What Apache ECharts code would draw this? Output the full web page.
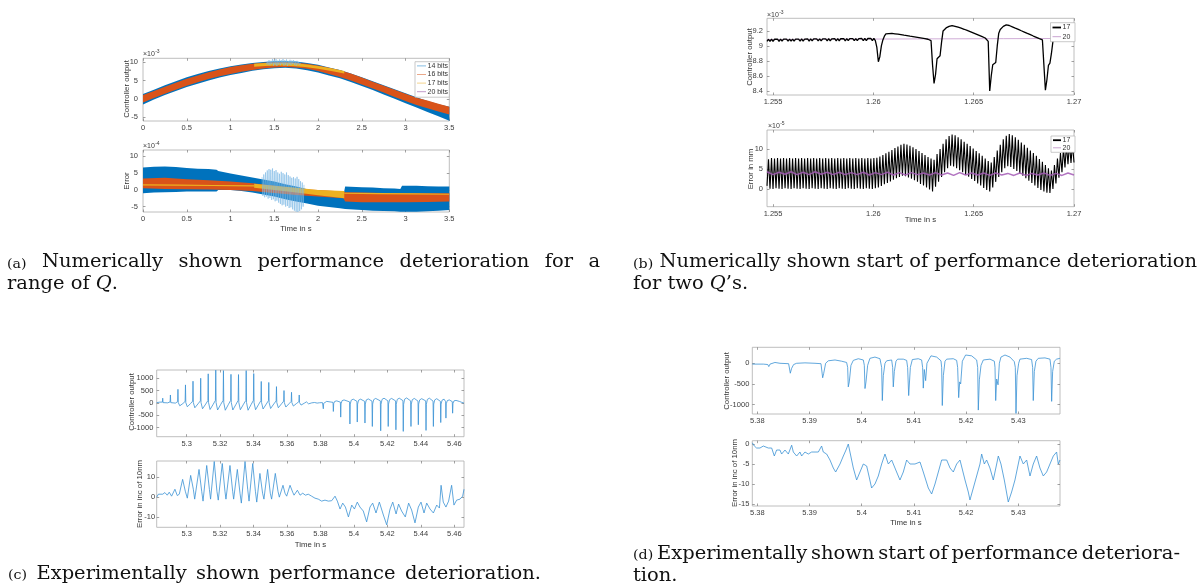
<!DOCTYPE html>
<html>
<head>
<meta charset="utf-8">
<script src="https://cdn.jsdelivr.net/npm/echarts@6/dist/echarts.min.js"></script>
<style>
  html, body { margin: 0; padding: 0; background: #fff; }
  #chart { width: 1204px; height: 586px; }
</style>
</head>
<body>
<div id="chart"></div>
<script>
// ---------------- tick labels ----------------
const ticksAX = [0, 0.5, 1, 1.5, 2, 2.5, 3, 3.5];
const ticksAY = [-5, 0, 5, 10];
const ticksBX = [1.255, 1.26, 1.265, 1.27];
const ticksBTopY = [8.4, 8.6, 8.8, 9, 9.2];
const ticksBBotY = [0, 5, 10];
const ticksCX = [5.3, 5.32, 5.34, 5.36, 5.38, 5.4, 5.42, 5.44, 5.46];
const ticksCTopY = [-1000, -500, 0, 500, 1000];
const ticksCBotY = [-10, 0, 10];
const ticksDX = [5.38, 5.39, 5.4, 5.41, 5.42, 5.43];
const ticksDTopY = [-1000, -500, 0];
const ticksDBotY = [-15, -10, -5, 0];

// ---------------- (a) range of quantisation levels, 0..3.5 s ----------------
const bitLabels = ['14 bits', '16 bits', '17 bits', '20 bits'];
const aTopT = [0, 0.125, 0.25, 0.375, 0.5, 0.625, 0.75, 0.875, 1, 1.125, 1.25, 1.375, 1.5, 1.625, 1.75,
               1.875, 2, 2.125, 2.25, 2.375, 2.5, 2.625, 2.75, 2.875, 3, 3.125, 3.25, 3.375, 3.5];
// controller output envelopes (x1e-3)
const aTopBlueHi = [1.3, 2.5, 3.7, 4.8, 5.9, 6.8, 7.6, 8.3, 8.9, 9.4, 9.8, 10.1, 10.3, 10.3, 10.2,
                    9.8, 9.3, 8.6, 7.9, 6.9, 5.9, 4.8, 3.7, 2.6, 1.5, 0.4, -0.6, -1.5, -2.2];
const aTopBlueLo = [-1.6, -0.2, 1.0, 2.1, 3.2, 4.1, 5.0, 5.8, 6.5, 7.1, 7.7, 8.1, 8.4, 8.5, 8.3,
                    7.8, 7.2, 6.4, 5.6, 4.6, 3.5, 2.4, 1.2, 0.0, -1.2, -2.4, -3.6, -4.8, -6.0];
const aTopOrangeHi = [1.0, 2.1, 3.3, 4.4, 5.5, 6.4, 7.3, 8.0, 8.7, 9.2, 9.6, 9.9, 10.0, 10.0, 9.9,
                      9.6, 9.1, 8.5, 7.8, 6.9, 5.8, 4.7, 3.6, 2.5, 1.4, 0.3, -0.5, -1.4, -2.2];
const aTopOrangeLo = [-1.0, 0.2, 1.4, 2.5, 3.6, 4.5, 5.4, 6.2, 6.8, 7.4, 7.9, 8.3, 8.6, 8.7, 8.6,
                      8.2, 7.6, 6.8, 6.0, 5.0, 3.9, 2.8, 1.7, 0.5, -0.6, -1.7, -2.6, -3.5, -4.3];
const aTopYellowT = [1.27, 1.4, 1.55, 1.7, 1.85, 2.0, 2.15, 2.3];
const aTopYellowHi = [9.6, 9.8, 9.9, 9.9, 9.5, 9.0, 8.4, 7.6];
const aTopYellowLo = [8.8, 9.0, 9.1, 9.0, 8.7, 8.2, 7.6, 6.9];
const aTopNoise = [[1.41,9.4],[1.42,10.2],[1.43,9.3],[1.44,10.6],[1.45,9.2],[1.46,10.4],[1.47,9.5],[1.48,10.9],
  [1.49,9.1],[1.50,10.7],[1.51,9.3],[1.52,10.9],[1.53,9.0],[1.54,10.5],[1.55,9.4],[1.56,10.8],[1.57,9.2],
  [1.58,10.6],[1.59,9.5],[1.60,10.9],[1.61,9.1],[1.62,10.6],[1.63,9.3],[1.64,10.8],[1.65,9.0],[1.66,10.4],
  [1.67,9.4],[1.68,10.7],[1.69,9.2],[1.70,10.5],[1.71,9.5],[1.72,10.6],[1.73,9.3],[1.74,10.3],[1.75,9.1],
  [1.76,10.4],[1.77,9.4],[1.78,10.1],[1.79,9.3],[1.80,9.9]];

// error envelopes (x1e-4)
const aBotBlueT = [0, 0.125, 0.25, 0.375, 0.5, 0.625, 0.75, 0.84, 0.86, 1.0, 1.125, 1.25, 1.375, 1.5, 1.625, 1.75,
                   1.875, 2.0, 2.125, 2.25, 2.29, 2.31, 2.5, 2.625, 2.75, 2.875, 2.94, 2.96, 3.125, 3.25, 3.375, 3.5];
const aBotBlueHi = [6.7, 6.9, 7.0, 6.8, 6.5, 6.3, 6.2, 6.0, 5.6, 4.9, 4.3, 3.7, 3.1, 2.5, 1.7, 1.0,
                    0.2, -0.5, -1.0, -1.5, -1.6, 1.0, 0.8, 0.7, 0.5, 0.4, 0.3, 1.2, 1.2, 1.1, 1.0, 1.0];
const aBotBlueLo = [-1.0, -0.8, -0.7, -0.6, -0.5, -0.5, -0.5, -0.5, 0.0, 0.0, -0.3, -0.8, -1.4, -2.0, -2.8, -3.5,
                    -4.1, -4.7, -5.1, -5.5, -5.6, -5.7, -6.0, -6.2, -6.3, -6.4, -6.5, -6.5, -6.5, -6.4, -6.2, -6.0];
const aBotOrangeT = [0, 0.25, 0.5, 0.75, 1.0, 1.25, 1.5, 1.75, 2.0, 2.29, 2.31, 2.5, 2.75, 3.0, 3.25, 3.5];
const aBotOrangeHi = [3.4, 3.6, 3.2, 2.9, 2.5, 2.0, 1.2, 0.3, 0.0, -0.5, -0.7, -0.8, -0.9, -1.0, -1.0, -1.0];
const aBotOrangeLo = [0.5, 0.3, 0.2, 0.1, 0.0, -0.3, -0.9, -1.5, -2.0, -2.5, -3.5, -3.7, -3.7, -3.7, -3.6, -3.5];
const aBotYellowT = [1.27, 1.5, 1.75, 2.0, 2.3];
const aBotYellowHi = [1.8, 1.2, 0.6, 0.0, -0.3];
const aBotYellowLo = [0.6, 0.0, -0.8, -1.6, -2.5];
const aBotYellowLeft = [[0, 1.5], [0.4, 1.4], [0.8, 1.3], [1.27, 1.2]];
const aBotYellowRight = [[2.3, -1.0], [2.7, -1.1], [3.1, -1.2], [3.5, -1.3]];
const aBotNoise = [[1.36,3.8],[1.37,-1.8],[1.38,4.6],[1.39,-2.2],[1.40,5.2],[1.41,-2.0],[1.42,5.8],[1.43,-2.6],
  [1.44,6.2],[1.45,-2.4],[1.46,6.0],[1.47,-3.0],[1.48,6.4],[1.49,-2.8],[1.50,5.6],[1.51,-3.4],[1.52,5.9],
  [1.53,-3.2],[1.54,5.2],[1.55,-3.8],[1.56,4.8],[1.57,-4.2],[1.58,5.4],[1.59,-4.6],[1.60,5.0],[1.61,-4.4],
  [1.62,4.6],[1.63,-5.0],[1.64,5.2],[1.65,-4.8],[1.66,4.4],[1.67,-5.4],[1.68,4.0],[1.69,-5.2],[1.70,3.6],
  [1.71,-5.8],[1.72,3.8],[1.73,-6.2],[1.74,3.4],[1.75,-6.5],[1.76,3.9],[1.77,-6.6],[1.78,3.2],[1.79,-6.3],
  [1.80,2.6],[1.81,-5.8],[1.82,2.2],[1.83,-5.0],[1.84,1.5]];

// ---------------- (b) two quantisation levels, 1.2547..1.27 s ----------------
const qLabels = ['17', '20'];
const bStart = 1.2547;      // first sample time
const bStep = 0.000075;     // sample spacing
// controller output, 17 bits (x1e-3)
const ctrl17 = [
  9.062, 9.089, 9.061, 9.090, 9.062, 9.089, 9.063, 9.090, 9.062, 9.091,
  9.063, 9.090, 9.064, 9.091, 9.063, 9.091, 9.064, 9.092, 9.064, 9.091,
  9.065, 9.092, 9.064, 9.093, 9.065, 9.092, 9.066, 9.093, 9.065, 9.094,
  9.066, 9.093, 9.067, 9.094, 9.066, 9.095, 9.067, 9.094, 9.068, 9.095,
  9.067, 9.096, 9.068, 9.095, 9.069, 9.096, 9.068, 9.097, 9.069, 9.096,
  9.070, 9.097, 9.069, 9.098, 9.070, 9.097, 9.071, 9.098, 9.070, 9.099,
  9.071, 9.098, 9.072, 9.099, 9.071, 9.100, 9.072, 9.099, 9.073, 9.100,
  9.072, 9.101, 9.070, 8.980,
  8.790, 8.860, 9.000, 9.080, 9.130, 9.160, 9.170, 9.165,
  9.180, 9.168, 9.176, 9.162, 9.170, 9.156, 9.163, 9.150, 9.158, 9.143, 9.151, 9.137, 9.145, 9.130,
  9.138, 9.124, 9.132, 9.117, 9.125, 9.110, 9.118, 9.103, 9.111, 9.096, 9.104, 9.089, 9.097, 9.070,
  8.750, 8.500, 8.620, 8.830, 8.840, 8.870, 9.050, 9.200, 9.220, 9.240, 9.230, 9.260, 9.250, 9.270,
  9.255, 9.262, 9.243, 9.250, 9.230, 9.237, 9.216, 9.222, 9.200, 9.206, 9.184, 9.190,
  9.168, 9.174, 9.152, 9.158, 9.136, 9.141, 9.119, 9.124, 9.102, 9.106, 9.085, 9.060,
  8.400, 8.600, 8.750, 8.770, 8.780, 9.000, 9.170, 9.220, 9.240, 9.260, 9.270, 9.280,
  9.265, 9.272, 9.248, 9.255, 9.230, 9.237, 9.213, 9.220, 9.195, 9.202, 9.178, 9.185, 9.160,
  9.167, 9.143, 9.150, 9.125, 9.132, 9.108, 9.115, 9.090, 9.097, 9.075, 9.082, 9.060,
  8.410, 8.550, 8.740, 8.770, 8.900, 9.060, 9.180, 9.230, 9.250, 9.260,
  9.270, 9.260, 9.270, 9.255, 9.260, 9.245, 9.250, 9.235, 9.240, 9.225
];
// controller output, 20 bits (x1e-3)
const ctrl20T = [1.2547, 1.2585, 1.2625, 1.2665, 1.2700];
const ctrl20 = [9.086, 9.090, 9.094, 9.097, 9.100];
// error, 17 bits (x1e-5), same sampling as ctrl17
const err17 = [
  0.8, 7.4, 0.1, 7.7, 0.0, 7.6, 0.2, 7.7, 0.1, 7.6,
  0.0, 7.7, 0.2, 7.6, 0.1, 7.7, 0.0, 7.6, 0.2, 7.7,
  0.1, 7.6, 0.0, 7.7, 0.2, 7.6, 0.1, 7.7, 0.0, 7.6,
  0.2, 7.7, 0.1, 7.6, 0.0, 7.7, 0.2, 7.6, 0.1, 7.7,
  0.0, 7.6, 0.2, 7.7, 0.1, 7.6, 0.0, 7.7, 0.2, 7.6,
  0.1, 7.7, 0.0, 7.6, 0.2, 7.7, 0.1, 7.6, 0.0, 7.7,
  0.2, 7.6, 0.1, 7.7, 0.0, 7.6, 0.2, 7.7, 0.1, 7.6,
  0.0, 7.7, 0.2, 7.8,
  0.4, 8.1, 0.8, 8.5, 1.2, 8.9, 1.5, 9.3, 1.9, 9.7,
  2.3, 10.2, 2.7, 10.6, 3.0, 11.0, 3.3, 11.3, 3.2, 11.1,
  2.9, 10.8, 2.6, 10.4, 2.2, 10.0, 1.8, 9.5, 1.3, 9.0,
  0.9, 8.5, 0.4, 8.0, -0.1, 7.6, -0.6, 7.3, 0.6, 8.7,
  1.8, 10.0, 3.0, 11.3, 4.2, 12.4, 5.2, 13.2, 5.8, 13.6,
  5.6, 13.4, 5.2, 12.9, 4.7, 12.4, 4.2, 11.8, 3.6, 11.3,
  3.1, 10.7, 2.5, 10.1, 2.0, 9.5, 1.4, 8.9, 0.9, 8.3,
  0.3, 7.6, -0.2, 7.0, -0.6, 6.6, 0.4, 8.0, 1.8, 9.6,
  3.0, 11.0, 4.2, 12.4, 5.2, 13.3, 5.7, 13.7, 5.5, 13.4,
  5.0, 12.9, 4.5, 12.3, 3.9, 11.6, 3.3, 11.0, 2.7, 10.3,
  2.1, 9.6, 1.5, 9.0, 0.9, 8.3, 0.3, 7.5, -0.2, 6.8,
  -0.6, 6.0, -0.9, 5.2, -1.0, 4.6, 0.0, 6.0, 1.4, 7.6,
  2.8, 9.0, 4.2, 10.2, 5.4, 11.0, 6.2, 11.4, 6.5, 11.2, 6.6
];
// error, 20 bits (x1e-5)
const err20Step = 0.0003;
const err20 = [4.3, 3.6, 4.2, 3.7, 4.3, 3.6, 4.2, 3.6, 4.3, 3.7, 4.2, 3.6, 4.2, 3.6, 4.1, 3.6, 4.2, 3.5,
  4.1, 3.6, 4.2, 3.5, 4.1, 3.5, 4.1, 3.6, 4.0, 3.5, 4.1, 3.5, 4.0, 3.4, 4.1, 3.5, 4.0, 3.5, 4.0, 3.4,
  4.0, 3.5, 3.9, 3.4, 4.0, 3.4, 3.9, 3.5, 4.0, 3.4, 3.9, 3.4, 4.0, 3.5];

// ---------------- (c) measured, 5.28..5.47 s ----------------
const ctrlC = [
  [5.2821,10],[5.2840,30],
  [5.2855,30],[5.2857,190],[5.2859,10],[5.2868,-30],[5.2887,0],
  [5.2901,40],[5.2903,320],[5.2905,10],[5.2914,-70],[5.2933,-10],
  [5.2946,50],[5.2948,550],[5.2950,10],[5.2959,-120],[5.2978,-25],
  [5.2991,60],[5.2993,730],[5.2995,10],[5.3004,-160],[5.3023,-30],
  [5.3036,70],[5.3038,880],[5.3040,10],[5.3049,-200],[5.3068,-40],
  [5.3082,80],[5.3084,1000],[5.3086,10],[5.3095,-240],[5.3114,-50],
  [5.3127,90],[5.3129,1180],[5.3131,10],[5.3140,-270],[5.3159,-55],
  [5.3172,100],[5.3174,1330],[5.3176,10],[5.3185,-290],[5.3204,-60],
  [5.3218,100],[5.3220,1310],[5.3222,10],[5.3231,-300],[5.3250,-60],
  [5.3263,100],[5.3265,1160],[5.3267,10],[5.3276,-290],[5.3295,-60],
  [5.3308,100],[5.3310,1150],[5.3312,10],[5.3321,-280],[5.3340,-55],
  [5.3354,100],[5.3356,1310],[5.3358,10],[5.3367,-300],[5.3386,-60],
  [5.3399,100],[5.3401,1190],[5.3403,10],[5.3412,-280],[5.3431,-55],
  [5.3444,90],[5.3446,870],[5.3448,10],[5.3457,-250],[5.3476,-50],
  [5.3489,90],[5.3491,830],[5.3493,10],[5.3502,-230],[5.3521,-45],
  [5.3535,80],[5.3537,660],[5.3539,10],[5.3548,-200],[5.3567,-40],
  [5.3580,70],[5.3582,500],[5.3584,10],[5.3593,-170],[5.3612,-35],
  [5.3625,60],[5.3627,430],[5.3629,10],[5.3638,-130],[5.3657,-25],
  [5.3671,50],[5.3673,320],[5.3675,10],[5.3684,-90],[5.3703,-15],
  [5.3716,40],[5.3718,120],[5.3720,10],[5.3729,-40],[5.3748,0],
  [5.3765,15],[5.3780,-10],[5.3795,5],[5.3798,-60],[5.3801,0],[5.3812,10],
  [5.3815,10],[5.3817,-240],[5.3819,-20],[5.3825,40],[5.3837,60],
  [5.3875,20],[5.3877,-350],[5.3879,-30],[5.3885,60],[5.3897,80],
  [5.3919,30],[5.3921,-580],[5.3923,-40],[5.3929,90],[5.3941,120],
  [5.3974,40],[5.3976,-860],[5.3978,-50],[5.3984,110],[5.3996,150],
  [5.4018,60],[5.4020,-780],[5.4022,-50],[5.4028,110],[5.4040,150],
  [5.4064,60],[5.4066,-820],[5.4068,-50],[5.4074,120],[5.4086,160],
  [5.4108,70],[5.4110,-960],[5.4112,-50],[5.4118,130],[5.4130,180],
  [5.4158,80],[5.4160,-1135],[5.4162,-60],[5.4168,140],[5.4180,190],
  [5.4203,80],[5.4205,-960],[5.4207,-50],[5.4213,130],[5.4225,180],
  [5.4249,80],[5.4251,-1095],[5.4253,-60],[5.4259,140],[5.4271,190],
  [5.4293,90],[5.4295,-1160],[5.4297,-60],[5.4303,150],[5.4315,200],
  [5.4339,80],[5.4341,-960],[5.4343,-50],[5.4349,130],[5.4361,180],
  [5.4383,70],[5.4385,-890],[5.4387,-50],[5.4393,120],[5.4405,170],
  [5.4429,80],[5.4431,-1120],[5.4433,-60],[5.4439,140],[5.4451,190],
  [5.4473,70],[5.4475,-960],[5.4477,-50],[5.4483,120],[5.4495,170],
  [5.4517,60],[5.4519,-800],[5.4521,-50],[5.4527,110],[5.4539,150],
  [5.4548,50],[5.4550,-620],[5.4552,-40],[5.4558,90],[5.4570,120],
  [5.4588,50],[5.4590,-420],[5.4592,-30],[5.4598,80],[5.4610,100],
  [5.4630,60],[5.4645,20],[5.4658,-10]
];
const errC = [
  [5.2821,0],[5.2831,1.5],[5.2841,2.0],[5.2857,1.5],[5.2870,2.3],[5.2884,1.0],[5.2896,2.5],[5.2910,0.5],
  [5.2930,4.0],[5.2944,0.8],[5.2956,1.5],[5.2976,9.0],[5.2992,3.0],[5.3004,-0.5],[5.3024,11.0],[5.3040,4.0],
  [5.3048,-1.0],[5.3074,14.0],[5.3090,3.0],[5.3098,-2.0],[5.3120,16.0],[5.3136,4.0],[5.3143,-1.0],
  [5.3165,18.0],[5.3181,3.0],[5.3189,-1.5],[5.3213,17.0],[5.3229,3.0],[5.3235,-1.0],[5.3259,16.0],
  [5.3275,3.0],[5.3281,-1.0],[5.3303,14.0],[5.3319,2.0],[5.3327,-3.0],[5.3349,18.0],[5.3365,4.0],
  [5.3373,-2.0],[5.3395,17.0],[5.3411,3.0],[5.3419,-2.5],[5.3438,12.0],[5.3454,2.0],[5.3462,-1.0],
  [5.3484,14.0],[5.3500,2.0],[5.3508,-1.0],[5.3530,12.0],[5.3546,3.0],[5.3554,0.0],[5.3576,6.0],
  [5.3588,2.0],[5.3598,0.5],[5.3618,6.0],[5.3634,2.5],[5.3642,1.0],[5.3662,3.5],[5.3678,1.0],
  [5.3694,2.0],[5.3710,1.0],[5.3727,1.5],[5.3747,0.5],[5.3767,-0.5],[5.3787,-1.0],[5.3807,-2.0],
  [5.3827,-1.5],[5.3847,-2.0],[5.3867,-1.8],[5.3887,0.5],[5.3901,-2.0],[5.3917,-6.0],[5.3933,-3.0],
  [5.3949,-5.0],[5.3967,-10.0],[5.3987,-4.0],[5.4003,-6.0],[5.4020,-2.5],[5.4036,-5.0],[5.4056,-7.0],
  [5.4076,-12.5],[5.4096,-5.0],[5.4112,-3.0],[5.4132,-8.0],[5.4152,-2.5],[5.4176,-9.0],[5.4196,-14.0],
  [5.4216,-6.0],[5.4232,-2.5],[5.4252,-8.5],[5.4267,-3.5],[5.4285,-7.0],[5.4307,-10.0],[5.4327,-3.0],
  [5.4345,-6.5],[5.4365,-13.0],[5.4385,-5.0],[5.4401,-2.5],[5.4419,-8.0],[5.4435,-3.0],[5.4455,-6.0],
  [5.4475,-8.0],[5.4495,-4.0],[5.4511,-5.5],[5.4521,6.0],[5.4534,-2.5],[5.4550,-5.0],[5.4566,-2.0],
  [5.4584,6.0],[5.4598,-4.0],[5.4614,-1.5],[5.4634,-1.0],[5.4650,0.5],[5.4658,4.0]
];

// ---------------- (d) measured, 5.379..5.438 s ----------------
const ctrlD = [
  [5.37904,-20],[5.38115,-20],[5.38200,-30],[5.38220,-80],[5.38243,-20],[5.38338,20],[5.38434,0],
  [5.38600,-10],[5.38632,-240],[5.38658,-120],[5.38696,-30],[5.38754,0],[5.38913,10],[5.39105,0],
  [5.39220,-10],[5.39252,-350],[5.39271,-250],[5.39309,0],[5.39360,60],[5.39488,80],[5.39616,50],
  [5.39711,20],[5.39731,-100],[5.39743,-570],[5.39762,-450],[5.39794,-50],[5.39839,70],[5.39935,110],
  [5.40031,80],[5.40050,-50],[5.40063,-610],[5.40082,-450],[5.40114,-50],[5.40158,120],[5.40254,150],
  [5.40350,110],[5.40382,-100],[5.40395,-900],[5.40414,-300],[5.40446,0],[5.40478,60],[5.40574,80],
  [5.40593,-100],[5.40605,-570],[5.40625,-200],[5.40657,50],[5.40688,100],[5.40797,100],[5.40861,70],
  [5.40880,-100],[5.40900,-780],[5.40932,-100],[5.40970,90],[5.41084,110],[5.41148,80],[5.41167,-100],
  [5.41180,-600],[5.41199,-150],[5.41225,-420],[5.41250,0],[5.41327,180],[5.41436,150],[5.41519,60],
  [5.41532,-100],[5.41544,-1020],[5.41564,-300],[5.41596,50],[5.41628,100],[5.41755,110],[5.41819,70],
  [5.41838,-100],[5.41858,-830],[5.41877,-450],[5.41896,-500],[5.41928,50],[5.41991,200],[5.42106,180],
  [5.42202,80],[5.42222,-100],[5.42234,-1130],[5.42254,-400],[5.42286,-50],[5.42330,80],[5.42458,100],
  [5.42541,50],[5.42554,-100],[5.42567,-900],[5.42586,-380],[5.42612,-520],[5.42637,0],[5.42668,150],
  [5.42745,200],[5.42841,150],[5.42923,40],[5.42943,-100],[5.42956,-1210],[5.42975,-300],[5.43007,0],
  [5.43032,100],[5.43160,120],[5.43255,90],[5.43275,-100],[5.43287,-900],[5.43307,-200],[5.43338,50],
  [5.43383,120],[5.43511,130],[5.43607,100],[5.43626,-100],[5.43639,-920],[5.43658,-200],[5.43690,50],
  [5.43734,100],[5.43798,120]
];
const errD = [
  [5.37904,0.3],[5.37943,-0.5],[5.37987,-1],[5.38051,-1],[5.38083,-1.5],[5.38115,-0.5],[5.38147,-1],
  [5.38211,-1],[5.38275,-1],[5.38326,-3],[5.38370,-1.5],[5.38434,-1.5],[5.38466,-2.5],[5.38530,-1.5],
  [5.38594,-2.5],[5.38658,-0.3],[5.38690,-2],[5.38754,-3],[5.38817,-2],[5.38849,-3],[5.38913,-2],
  [5.38977,-2.5],[5.39041,-2],[5.39105,-2],[5.39169,-2],[5.39232,-0.5],[5.39264,-2],[5.39328,-2.5],
  [5.39392,-4],[5.39456,-6],[5.39501,-7],[5.39539,-7],[5.39584,-5],[5.39648,-3],[5.39699,-1.5],
  [5.39743,0],[5.39775,-2],[5.39839,-6],[5.39903,-9],[5.39967,-7],[5.40031,-5],[5.40095,-5.5],
  [5.40139,-8],[5.40190,-11],[5.40254,-10],[5.40318,-8],[5.40382,-5],[5.40446,-2.5],[5.40478,-3],
  [5.40510,-5],[5.40574,-4],[5.40669,-7],[5.40733,-9],[5.40797,-7],[5.40861,-4],[5.40925,-5],
  [5.41021,-5],[5.41117,-4.5],[5.41180,-7],[5.41276,-11],[5.41340,-12.5],[5.41404,-10],[5.41468,-7],
  [5.41532,-4],[5.41628,-4],[5.41692,-6],[5.41755,-7],[5.41819,-5],[5.41883,-4],[5.41979,-9],
  [5.42042,-12],[5.42074,-14],[5.42138,-11],[5.42202,-8],[5.42266,-5],[5.42298,-2.5],[5.42349,-5],
  [5.42393,-4],[5.42457,-6],[5.42521,-9],[5.42586,-5],[5.42617,-3],[5.42668,-5],[5.42732,-9],
  [5.42808,-14.5],[5.42872,-12],[5.42936,-9],[5.43000,-5],[5.43032,-3],[5.43096,-5],[5.43160,-4],
  [5.43224,-8],[5.43287,-5],[5.43351,-3],[5.43415,-6],[5.43479,-8],[5.43543,-7],[5.43607,-5],
  [5.43671,-3],[5.43734,-2],[5.43766,-5],[5.43798,-4]
];

// ---------------- layout of the eight axes ----------------
const SANS = '"Liberation Sans", Arial, sans-serif';
const SERIF = '"DejaVu Serif", serif';
const BLUE = '#0072BD', ORANGE = '#D95319', YELLOW = '#EDB120';
const MEAS = '#3a92d4';

const panels = [
  { box: [143, 58.3, 306.3, 62.7],  x: [0, 3.5],           y: [-6.1, 11.1],   xt: ticksAX, yt: ticksAY, m: 5 },
  { box: [143, 150, 306.3, 62],     x: [0, 3.5],           y: [-6.6, 11.9],   xt: ticksAX, yt: ticksAY, m: 5 },
  { box: [767, 18.3, 307, 76.7],    x: [1.2547, 1.2700],   y: [8.347, 9.368], xt: ticksBX, yt: ticksBTopY, m: 4 },
  { box: [767, 130, 307, 76.7],     x: [1.2547, 1.2700],   y: [-4.39, 14.71], xt: ticksBX, yt: ticksBBotY, m: 4 },
  { box: [156.7, 370, 307.3, 66.7], x: [5.2821, 5.4658],   y: [-1376, 1336],  xt: ticksCX, yt: ticksCTopY, m: 3.4 },
  { box: [156.7, 461, 307.3, 66.3], x: [5.2821, 5.4658],   y: [-15.23, 18.27], xt: ticksCX, yt: ticksCBotY, m: 1.5 },
  { box: [752.3, 347.3, 307.7, 66.7], x: [5.37904, 5.43799], y: [-1225, 386],  xt: ticksDX, yt: ticksDTopY, m: 3 },
  { box: [752.3, 440.7, 307.7, 65.3], x: [5.37904, 5.43799], y: [-15.5, 0.83], xt: ticksDX, yt: ticksDBotY, m: 3 }
];

const grids = [], xAxes = [], yAxes = [];
const tickLine = { color: '#7a7a7a', width: 0.7 };
const fmt = v => String(parseFloat(Number(v).toFixed(4)));
panels.forEach((p, gi) => {
  grids.push({ left: p.box[0], top: p.box[1], width: p.box[2], height: p.box[3],
               show: true, borderColor: '#adadad', borderWidth: 0.8, backgroundColor: '#fff' });
  ['bottom', 'top'].forEach(pos => xAxes.push({
    type: 'value', gridIndex: gi, position: pos, min: p.x[0], max: p.x[1],
    axisLine: { show: false, onZero: false }, splitLine: { show: false },
    axisTick: { show: true, inside: true, length: 2.5, customValues: p.xt, lineStyle: tickLine },
    axisLabel: { show: pos === 'bottom', customValues: p.xt, formatter: fmt, margin: 3,
                 fontSize: 7.5, fontFamily: SANS, color: '#3c3c3c' }
  }));
  ['left', 'right'].forEach(pos => yAxes.push({
    type: 'value', gridIndex: gi, position: pos, min: p.y[0], max: p.y[1],
    axisLine: { show: false, onZero: false }, splitLine: { show: false },
    axisTick: { show: true, inside: true, length: 2.5, customValues: p.yt, lineStyle: tickLine },
    axisLabel: { show: pos === 'left', customValues: p.yt, formatter: fmt, margin: p.m,
                 fontSize: 7.5, fontFamily: SANS, color: '#3c3c3c' }
  }));
});

// ---------------- series helpers ----------------
function lineSeries(gi, data, color, width, opacity) {
  return { type: 'line', xAxisIndex: 2 * gi, yAxisIndex: 2 * gi, data: data, symbol: 'none',
           showSymbol: false, silent: true, clip: true, animation: false,
           lineStyle: { color: color, width: width, opacity: opacity == null ? 1 : opacity } };
}
// filled region between a lower and an upper envelope
function bandSeries(gi, ts, lo, hi, color) {
  return {
    type: 'custom', xAxisIndex: 2 * gi, yAxisIndex: 2 * gi, silent: true, clip: true, animation: false,
    data: ts.map((t, i) => [t, lo[i], hi[i]]), encode: { x: 0, y: [1, 2] },
    renderItem: function (params, api) {
      if (params.dataIndex !== 0) return null;
      const pts = [];
      for (let i = 0; i < ts.length; i++) pts.push(api.coord([ts[i], hi[i]]));
      for (let i = ts.length - 1; i >= 0; i--) pts.push(api.coord([ts[i], lo[i]]));
      return { type: 'polygon', shape: { points: pts }, style: { fill: color } };
    }
  };
}
const sampled = (start, step, vals) => vals.map((v, i) => [start + i * step, v]);
const pairs = (ts, vs) => ts.map((t, i) => [t, vs[i]]);

const series = [
  // (a) controller output
  bandSeries(0, aTopT, aTopBlueLo, aTopBlueHi, BLUE),
  lineSeries(0, aTopNoise, '#7fbbe6', 0.6),
  bandSeries(0, aTopT, aTopOrangeLo, aTopOrangeHi, ORANGE),
  bandSeries(0, aTopYellowT, aTopYellowLo, aTopYellowHi, YELLOW),
  // (a) error
  bandSeries(1, aBotBlueT, aBotBlueLo, aBotBlueHi, BLUE),
  lineSeries(1, aBotNoise, '#7fbbe6', 0.6),
  bandSeries(1, aBotOrangeT, aBotOrangeLo, aBotOrangeHi, ORANGE),
  bandSeries(1, aBotYellowT, aBotYellowLo, aBotYellowHi, YELLOW),
  lineSeries(1, aBotYellowLeft, YELLOW, 1.2),
  lineSeries(1, aBotYellowRight, YELLOW, 1.2),
  // (b) controller output
  lineSeries(2, pairs(ctrl20T, ctrl20), '#c9a3d1', 0.9),
  lineSeries(2, sampled(bStart, bStep, ctrl17), '#000', 1.3),
  // (b) error
  lineSeries(3, sampled(bStart, bStep, err17), '#000', 1.1),
  lineSeries(3, sampled(bStart, err20Step, err20), '#a35bb5', 1.5, 0.85),
  // (c)
  lineSeries(4, ctrlC, MEAS, 0.8),
  lineSeries(5, errC, MEAS, 0.8),
  // (d)
  lineSeries(6, ctrlD, MEAS, 0.8),
  lineSeries(7, errD, MEAS, 0.8)
];

// ---------------- texts: axis names, exponents, legends, captions ----------------
const graphics = [];
function vText(x, y, text) {
  graphics.push({ type: 'text', x: x, y: y, rotation: Math.PI / 2, z: 50, silent: true,
    style: { text: text, fontSize: 7.8, fontFamily: SANS, fill: '#333', align: 'center', verticalAlign: 'middle' } });
}
function hText(x, y, text) {
  graphics.push({ type: 'text', x: x, y: y, z: 50, silent: true,
    style: { text: text, fontSize: 7.8, fontFamily: SANS, fill: '#333', align: 'center', verticalAlign: 'middle' } });
}
const mctx = document.createElement('canvas').getContext('2d');
function measure(str, size, family, italic) {
  mctx.font = (italic ? 'italic ' : '') + size + 'px ' + family;
  return mctx.measureText(str).width;
}
function exponent(x, y, power) {
  const w = measure('\u00d710', 7, SANS, false);
  graphics.push({ type: 'text', x: x, y: y, z: 50, silent: true,
    style: { text: '\u00d710', fontSize: 7, fontFamily: SANS, fill: '#3c3c3c', align: 'left', verticalAlign: 'middle' } });
  graphics.push({ type: 'text', x: x + w + 0.3, y: y - 2.6, z: 50, silent: true,
    style: { text: power, fontSize: 5, fontFamily: SANS, fill: '#3c3c3c', align: 'left', verticalAlign: 'middle' } });
}
function legend(x, y, w, h, items) {
  graphics.push({ type: 'rect', z: 60, silent: true, shape: { x: x, y: y, width: w, height: h },
    style: { fill: '#fff', stroke: '#b3b3b3', lineWidth: 0.7 } });
  items.forEach(it => {
    graphics.push({ type: 'line', z: 61, silent: true,
      shape: { x1: x + 2, y1: it.y, x2: x + 2 + it.len, y2: it.y },
      style: { stroke: it.color, lineWidth: it.width } });
    graphics.push({ type: 'text', z: 61, silent: true, x: x + 3.5 + it.len, y: it.y,
      style: { text: it.label, fontSize: 7, fontFamily: SANS, fill: '#333', align: 'left', verticalAlign: 'middle' } });
  });
}

vText(127, 89, 'Controller output');
vText(127, 181, 'Error');
vText(749.5, 57, 'Controller output');
vText(751, 169, 'Error in mm');
vText(132, 402, 'Controller output');
vText(139.5, 494, 'Error in inc of 10nm');
vText(727, 381, 'Controller output');
vText(735, 473, 'Error in inc of 10nm');
hText(296, 228.5, 'Time in s');
hText(920.5, 220, 'Time in s');
hText(310.5, 544.5, 'Time in s');
hText(906, 522.5, 'Time in s');
exponent(143, 54.5, '-3');
exponent(143, 146, '-4');
exponent(767, 15, '-3');
exponent(768, 126.5, '-5');

const bitColors = ['#86bde3', '#eaa88a', '#f4d48e', '#c29ccb'];
legend(415, 61.7, 34.3, 35.5, bitLabels.map((l, i) => ({ label: l, color: bitColors[i], width: 1, len: 9, y: 65.9 + i * 8.6 })));
legend(1050.5, 22.7, 24.5, 19, [
  { label: qLabels[0], color: '#000', width: 1.8, len: 8.5, y: 27.5 },
  { label: qLabels[1], color: '#c9a3d1', width: 1, len: 8.5, y: 36.7 }]);
legend(1051, 136, 24, 16.3, [
  { label: qLabels[0], color: '#000', width: 1.8, len: 8, y: 140.2 },
  { label: qLabels[1], color: '#c9a3d1', width: 1, len: 8, y: 147.8 }]);

// captions: a serif face widened horizontally, optionally justified between x0 and x1
const CAP = 18.5, LAB = 13.5;
const words = str => str.split(' ').map(w => [{ t: w, s: CAP }]);
const tokWidth = tok => tok.reduce((w, sg) => w + measure(sg.t, sg.s, SERIF, sg.i), 0);
const capB1 = [[{ t: '(b)', s: LAB }]].concat(words('Numerically shown start of performance deterioration'));
// widening chosen so the tightly set first line of (b) spans 633..1197
const naturalB = capB1.reduce((w, tok) => w + tokWidth(tok), 0) + (capB1.length - 1) * measure(' ', CAP, SERIF, false);
const SX = 564 / naturalB;
function captionLine(tokens, x0, baseline, x1) {
  const widths = tokens.map(tok => tokWidth(tok) * SX);
  const total = widths.reduce((a, b) => a + b, 0);
  const gap = (x1 != null && tokens.length > 1) ? (x1 - x0 - total) / (tokens.length - 1)
                                                : measure(' ', CAP, SERIF, false) * SX;
  let x = x0;
  tokens.forEach((tok, k) => {
    let sx = x;
    tok.forEach(sg => {
      graphics.push({ type: 'text', x: sx, y: baseline - 0.346 * sg.s, scaleX: SX, z: 70, silent: true,
        style: { text: sg.t, fontSize: sg.s, fontFamily: SERIF, fontStyle: sg.i ? 'italic' : 'normal',
                 fill: '#111', align: 'left', verticalAlign: 'middle' } });
      sx += measure(sg.t, sg.s, SERIF, sg.i) * SX;
    });
    x += widths[k] + gap;
  });
}
captionLine([[{ t: '(a)', s: LAB }]].concat(words('Numerically shown performance deterioration for a')), 7, 268.7, 600);
captionLine(words('range of').concat([[{ t: 'Q', s: CAP, i: true }, { t: '.', s: CAP }]]), 7, 291);
captionLine(capB1, 633, 268.7, 1197);
captionLine(words('for two').concat([[{ t: 'Q', s: CAP, i: true }, { t: '\u2019s.', s: CAP }]]), 633, 291);
captionLine([[{ t: '(c)', s: LAB }]].concat(words('Experimentally shown performance deterioration.')), 8, 580.5, 541);
captionLine([[{ t: '(d)', s: LAB }]].concat(words('Experimentally shown start of performance deteriora-')), 633, 560.5, 1180);
captionLine(words('tion.'), 633, 582.5);

const chart = echarts.init(document.getElementById('chart'), null, { renderer: 'canvas' });
chart.setOption({
  animation: false,
  backgroundColor: '#fff',
  grid: grids,
  xAxis: xAxes,
  yAxis: yAxes,
  series: series,
  graphic: { elements: graphics }
});
</script>
</body>
</html>
